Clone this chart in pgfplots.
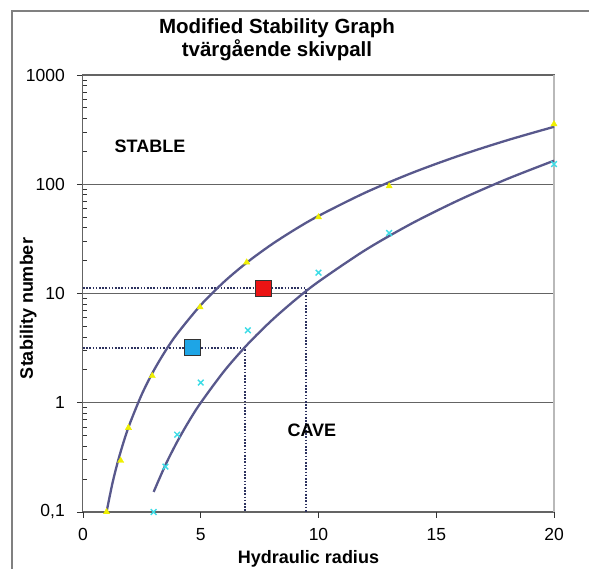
\documentclass[border=0pt]{standalone}
\usepackage{pgfplots}
\pgfplotsset{compat=1.18}
\usepackage{fontspec}
\setmainfont{Liberation Sans}
\definecolor{curve}{RGB}{88,88,140}
\definecolor{ptyellow}{RGB}{240,240,0}
\definecolor{ptcyan}{RGB}{60,220,230}
\definecolor{sqred}{RGB}{235,20,20}
\definecolor{sqblue}{RGB}{30,165,230}
\definecolor{dotc}{RGB}{45,50,95}
\definecolor{gridc}{RGB}{100,100,100}
\definecolor{framec}{RGB}{128,128,128}
\newcommand{\tickfont}{\fontsize{17.5}{20}\selectfont}
\newcommand{\labfont}{\fontsize{18}{21}\selectfont\bfseries}
\begin{document}
\begin{tikzpicture}[x=1pt,y=1pt]
\useasboundingbox (-83,-57) rectangle (506,512);
\draw[framec, line width=1.2pt] (-71,-60) -- (-71,501) -- (510,501);
\begin{axis}[
  at={(0,0)}, anchor=south west,
  scale only axis, width=471pt, height=437pt,
  xmin=0, xmax=20, ymode=log, ymin=0.1, ymax=1000,
  xtick={0,5,10,15,20}, xticklabels={0,5,10,15,20},
  ytick={0.1,1,10,100,1000}, yticklabels={{0,1},1,10,100,1000},
  minor ytick={0.2,0.3,0.4,0.5,0.6,0.7,0.8,0.9,2,3,4,5,6,7,8,9,20,30,40,50,60,70,80,90,200,300,400,500,600,700,800,900},
  tick pos=left,
  ymajorgrids, major grid style={gridc, line width=0.9pt},
  axis line style={gridc, line width=1pt},
  tick style={black!80, line width=0.8pt},
  tick align=outside, major tick length=6pt, minor tick length=4pt,
  minor y tick style={xshift=4pt},
  xticklabel style={font=\tickfont, inner sep=0pt, yshift=-10pt},
  yticklabel style={font=\tickfont, inner sep=0pt, xshift=-12pt},
  clip=false,
]
\draw[gray!55, line width=1.2pt] (rel axis cs:1,0) -- (rel axis cs:1,1);
\addplot[dotc, line width=1.6pt, dash pattern=on 1.6pt off 1.6pt] coordinates {(0,11.2)(9.47,11.2)(9.47,0.1)};
\addplot[dotc, line width=1.6pt, dash pattern=on 1.6pt off 1.6pt] coordinates {(0,3.16)(6.88,3.16)(6.88,0.1)};
\addplot[curve, line width=2.3pt, smooth] coordinates {(1,0.1)(1.25,0.1831)(1.5,0.3)(1.75,0.4558)(2,0.6543)(2.5,1.198)(3,1.963)(3.5,2.981)(4,4.281)(5,7.838)(6,12.85)(7,19.51)(8,28.02)(9,38.54)(10,51.29)(12,84.05)(14,127.7)(16,183.4)(18,252.2)(20,335.6)};
\addplot[curve, line width=2.3pt, smooth] coordinates {(3,0.1527)(3.5,0.2691)(4,0.4398)(4.5,0.6785)(5,1)(6,1.956)(7,3.449)(8,5.638)(9,8.698)(10,12.82)(12,25.07)(14,44.21)(16,72.25)(18,111.5)(20,164.3)};
\addplot[only marks, mark=triangle*, mark size=3.6pt, mark options={fill=ptyellow, draw=ptyellow}] coordinates {(1,0.1)(1.6,0.295)(1.93,0.59)(2.94,1.76)(4.97,7.5)(6.95,19.3)(10,50)(13,96)(20,355)};
\addplot[only marks, mark=x, mark size=4pt, mark options={draw=ptcyan, line width=1.4pt}] coordinates {(3,0.1)(3.5,0.26)(4,0.51)(5,1.53)(7,4.6)(10,15.5)(13,35.8)(20,153)};
\addplot[only marks, mark=square*, mark size=8pt, mark options={fill=sqred, draw=black!80, line width=1pt}] coordinates {(7.65,11)};
\addplot[only marks, mark=square*, mark size=8pt, mark options={fill=sqblue, draw=black!80, line width=1pt}] coordinates {(4.64,3.2)};
\node[font=\labfont] at (axis cs:2.845,224) {STABLE};
\node[font=\labfont] at (axis cs:9.72,0.565) {CAVE};
\end{axis}
\node[font=\fontsize{20.5}{24}\selectfont\bfseries, anchor=base] at (194,478.7) {Modified Stability Graph};
\node[font=\fontsize{20.5}{24}\selectfont\bfseries, anchor=base] at (194,455.3) {tvärgående skivpall};
\node[font=\labfont, rotate=90, anchor=base] at (-50,203.5) {Stability number};
\node[font=\labfont, anchor=base] at (225.5,-52) {Hydraulic radius};
\end{tikzpicture}
\end{document}
